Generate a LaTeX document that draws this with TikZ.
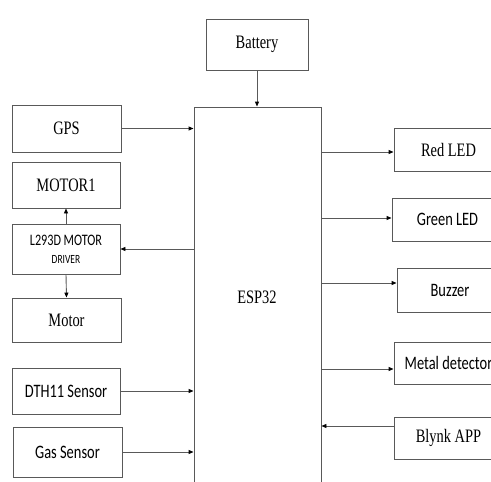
\documentclass[tikz,border=0pt]{standalone}
\usepackage{fontspec}
\usetikzlibrary{arrows.meta,calc}
\newfontfamily\tnrfont{Liberation Serif}[FakeStretch=0.76]
\newfontfamily\carfont{Carlito}[FakeStretch=0.76]
\begin{document}
\begin{tikzpicture}[x=1pt,y=-1pt,
  blk/.style={draw=black!65,line width=0.9pt,rectangle,inner sep=0pt,align=center},
  tnr/.style={font=\tnrfont\fontsize{19}{21}\selectfont},
  car/.style={font=\carfont\fontsize{19}{21}\selectfont},
  arr/.style={draw=black!65,line width=0.9pt,-{Triangle[length=5pt,width=4pt,color=black]}}]
\useasboundingbox (0,0) rectangle (491,482);
\clip (0,0) rectangle (491,482);
% centre
\node[blk,minimum width=127pt,minimum height=380pt] (esp) at (257.5,297) {};
\node[tnr] (esplabel) at (257,297) {ESP32};
\node[blk,tnr,minimum width=102pt,minimum height=51pt] (bat) at (257,44.5) {Battery};
% left
\node[blk,tnr,minimum width=109pt,minimum height=47pt] (gps) at (66.5,128.5) {GPS};
\node[blk,tnr,minimum width=108pt,minimum height=46pt] (m1) at (66,185) {MOTOR1};
\node[blk,minimum width=108pt,minimum height=50pt] (drv) at (66,249) {};
\node[font=\carfont\fontsize{16}{18}\selectfont] (drv1) at (66,240) {L293D MOTOR};
\node[font=\carfont\fontsize{12.5}{14}\selectfont] (drv2) at (66,259.5) {DRIVER};
\node[blk,tnr,minimum width=109pt,minimum height=44pt] (mot) at (66.5,320) {Motor};
\node[blk,car,minimum width=108pt,minimum height=46pt] (dth) at (66,391) {DTH11 Sensor};
\node[blk,car,minimum width=109pt,minimum height=50pt] (gas) at (67.5,452) {Gas Sensor};
% right
\node[blk,tnr,minimum width=109pt,minimum height=43pt] (red) at (448.5,149.5) {Red LED};
\node[blk,car,minimum width=111pt,minimum height=43pt] (green) at (447.5,219.5) {Green LED};
\node[blk,car,minimum width=106pt,minimum height=44pt] (buz) at (450,290) {Buzzer};
\node[blk,car,minimum width=109pt,minimum height=42pt] (met) at (448.5,363) {Metal detector};
\node[blk,tnr,minimum width=109pt,minimum height=42pt] (bly) at (448.5,438) {Blynk APP};
% connectors
\draw[arr] (bat.south) -- (bat.south |- esp.north);
\draw[arr] (gps.east) -- (gps.east -| esp.west);
\draw[arr] (drv.east -| esp.west) -- (drv.east);
\draw[arr] (drv.north) -- (m1.south);
\draw[arr] (drv.south) -- (mot.north);
\draw[arr] (dth.east) -- (dth.east -| esp.west);
\draw[arr] (gas.east) -- (gas.east -| esp.west);
\draw[arr] ([yshift=-2.5pt]red.west -| esp.east) -- ([yshift=-2.5pt]red.west);
\draw[arr] ([yshift=1.5pt]green.west -| esp.east) -- ([yshift=1.5pt]green.west);
\draw[arr] ([yshift=7pt]buz.west -| esp.east) -- ([yshift=7pt]buz.west);
\draw[arr] ([yshift=-6pt]met.west -| esp.east) -- ([yshift=-6pt]met.west);
\draw[arr] ([yshift=12pt]bly.west) -- ([yshift=12pt]bly.west -| esp.east);
\end{tikzpicture}
\end{document}
